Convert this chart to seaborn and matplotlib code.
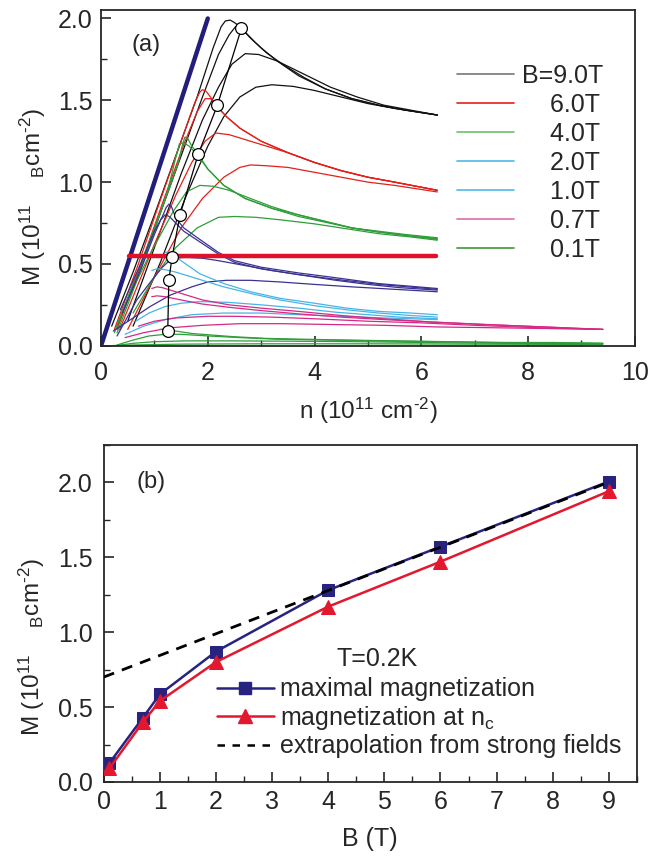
import numpy as np
import pandas as pd
import matplotlib
matplotlib.use("Agg")
import matplotlib.pyplot as plt
from matplotlib.lines import Line2D
from matplotlib.ticker import MultipleLocator
import seaborn as sns

# ---------------- panel (a): M(n) curves, four temperatures per field ----------------
# each curve is a list of (n, M) points
b9_curves = [
    [(0.2, 0.12), (0.6, 0.45), (1.0, 0.8), (1.4, 1.16), (1.8, 1.52), (2.1, 1.82), (2.25, 1.95),
     (2.33, 1.985), (2.42, 1.99), (2.5, 1.975), (2.6, 1.95), (2.8, 1.88), (3.0, 1.82), (3.3, 1.74),
     (3.7, 1.65), (4.2, 1.57), (4.7, 1.51), (5.2, 1.47), (5.7, 1.44), (6.3, 1.41)],
    [(0.3, 0.12), (0.7, 0.45), (1.1, 0.8), (1.5, 1.16), (1.9, 1.52), (2.2, 1.78), (2.4, 1.9),
     (2.52, 1.95), (2.63, 1.94), (2.75, 1.9), (2.9, 1.85), (3.1, 1.79), (3.4, 1.72), (3.8, 1.64),
     (4.2, 1.57), (4.7, 1.51), (5.2, 1.47), (5.7, 1.44), (6.3, 1.41)],
    [(0.5, 0.15), (1.0, 0.6), (1.5, 1.05), (1.9, 1.38), (2.2, 1.58), (2.45, 1.72), (2.7, 1.785),
     (2.95, 1.78), (3.3, 1.74), (3.8, 1.66), (4.3, 1.58), (4.8, 1.52), (5.3, 1.47), (5.8, 1.44), (6.3, 1.41)],
    [(0.6, 0.12), (1.1, 0.5), (1.6, 0.92), (2.0, 1.22), (2.3, 1.4), (2.6, 1.52), (2.9, 1.58),
     (3.2, 1.595), (3.6, 1.585), (4.0, 1.56), (4.5, 1.52), (5.0, 1.48), (5.5, 1.45), (6.3, 1.41)],
]
b6_curves = [
    [(0.25, 0.1), (0.7, 0.5), (1.1, 0.88), (1.5, 1.25), (1.75, 1.48), (1.85, 1.55), (1.9, 1.565),
     (1.97, 1.555), (2.05, 1.52), (2.18, 1.46), (2.35, 1.4), (2.6, 1.33), (3.0, 1.25), (3.5, 1.18),
     (4.0, 1.12), (4.5, 1.07), (5.0, 1.03), (5.5, 1.0), (6.3, 0.95)],
    [(0.3, 0.1), (0.75, 0.5), (1.15, 0.87), (1.55, 1.23), (1.8, 1.43), (1.95, 1.51), (2.05, 1.51),
     (2.18, 1.46), (2.35, 1.4), (2.6, 1.33), (3.0, 1.25), (3.5, 1.18), (4.0, 1.12), (4.5, 1.07),
     (5.0, 1.03), (5.5, 1.0), (6.3, 0.95)],
    [(0.35, 0.1), (0.6, 0.3), (1.0, 0.62), (1.4, 0.92), (1.7, 1.12), (1.95, 1.25), (2.15, 1.3),
     (2.4, 1.29), (2.7, 1.26), (3.0, 1.23), (3.5, 1.18), (4.0, 1.12), (4.5, 1.07), (5.0, 1.03),
     (5.5, 1.0), (6.3, 0.95)],
    [(0.5, 0.1), (1.0, 0.42), (1.5, 0.72), (1.9, 0.9), (2.3, 1.03), (2.6, 1.09), (2.8, 1.105),
     (3.1, 1.1), (3.5, 1.09), (4.0, 1.06), (4.5, 1.03), (5.0, 1.0), (5.5, 0.98), (6.3, 0.94)],
]
b4_curves = [
    [(0.25, 0.08), (0.6, 0.38), (1.0, 0.72), (1.3, 0.98), (1.45, 1.12), (1.52, 1.22), (1.57, 1.275),
     (1.62, 1.27), (1.7, 1.22), (1.82, 1.17), (2.0, 1.08), (2.3, 0.98), (2.7, 0.9), (3.2, 0.84),
     (3.7, 0.8), (4.2, 0.76), (4.7, 0.72), (5.2, 0.7), (5.7, 0.68), (6.3, 0.66)],
    [(0.3, 0.08), (0.65, 0.38), (1.0, 0.7), (1.25, 0.95), (1.4, 1.15), (1.47, 1.235), (1.55, 1.24),
     (1.65, 1.22), (1.82, 1.16), (2.0, 1.08), (2.3, 0.98), (2.7, 0.9), (3.2, 0.84), (3.7, 0.79),
     (4.2, 0.755), (4.7, 0.72), (5.2, 0.695), (5.7, 0.675), (6.3, 0.655)],
    [(0.3, 0.12), (0.45, 0.25), (0.9, 0.55), (1.35, 0.82), (1.6, 0.94), (1.85, 0.98), (2.1, 0.975),
     (2.4, 0.95), (2.8, 0.9), (3.2, 0.85), (3.7, 0.8), (4.2, 0.76), (4.7, 0.72), (5.2, 0.695),
     (5.7, 0.675), (6.3, 0.65)],
    [(0.6, 0.2), (1.0, 0.42), (1.4, 0.6), (1.8, 0.72), (2.2, 0.785), (2.5, 0.79), (2.9, 0.785),
     (3.35, 0.77), (4.0, 0.745), (4.6, 0.715), (5.2, 0.685), (5.8, 0.665), (6.3, 0.645)],
]
b2_curves = [
    [(0.36, 0.22), (0.7, 0.47), (1.0, 0.7), (1.15, 0.79), (1.22, 0.845), (1.27, 0.865), (1.32, 0.85),
     (1.4, 0.78), (1.55, 0.72), (1.85, 0.65), (2.2, 0.57), (2.5, 0.52), (3.0, 0.48), (3.7, 0.445),
     (4.3, 0.42), (5.2, 0.38), (6.3, 0.35)],
    [(0.4, 0.2), (0.75, 0.47), (1.0, 0.68), (1.12, 0.77), (1.2, 0.8), (1.28, 0.79), (1.4, 0.75),
     (1.55, 0.7), (1.85, 0.635), (2.2, 0.56), (2.5, 0.51), (3.0, 0.47), (3.7, 0.435), (4.3, 0.41),
     (5.2, 0.375), (6.3, 0.345)],
    [(0.3, 0.06), (0.67, 0.28), (0.95, 0.4), (1.15, 0.48), (1.33, 0.535), (1.6, 0.54), (1.9, 0.535),
     (2.2, 0.52), (2.7, 0.49), (3.2, 0.46), (3.8, 0.43), (4.4, 0.4), (5.0, 0.375), (5.6, 0.355), (6.3, 0.34)],
    [(0.23, 0.09), (0.6, 0.17), (0.92, 0.24), (1.3, 0.31), (1.7, 0.36), (2.0, 0.39), (2.35, 0.4),
     (2.8, 0.4), (3.35, 0.39), (4.0, 0.375), (4.7, 0.36), (5.5, 0.345), (6.3, 0.33)],
]
b1_curves = [
    [(1.2, 0.57), (1.27, 0.575), (1.35, 0.56), (1.5, 0.52), (1.85, 0.44), (2.3, 0.38), (2.8, 0.33),
     (3.35, 0.29), (4.0, 0.26), (4.6, 0.23), (5.2, 0.21), (5.8, 0.2), (6.3, 0.19)],
    [(0.95, 0.46), (1.05, 0.47), (1.2, 0.465), (1.4, 0.45), (1.8, 0.41), (2.3, 0.36), (2.8, 0.32),
     (3.35, 0.28), (4.0, 0.245), (4.6, 0.22), (5.2, 0.2), (5.8, 0.185), (6.3, 0.175)],
    [(0.65, 0.15), (0.9, 0.2), (1.2, 0.24), (1.5, 0.26), (1.85, 0.27), (2.4, 0.265), (3.0, 0.25),
     (3.7, 0.23), (4.4, 0.205), (5.0, 0.19), (5.6, 0.175), (6.3, 0.165)],
    [(0.45, 0.07), (0.8, 0.12), (1.2, 0.16), (1.7, 0.19), (2.3, 0.2), (3.0, 0.2), (3.7, 0.19),
     (4.5, 0.18), (5.3, 0.17), (6.3, 0.16)],
]
b07_curves = [
    [(0.95, 0.35), (1.05, 0.36), (1.15, 0.355), (1.3, 0.34), (1.6, 0.31), (1.9, 0.28), (2.4, 0.25),
     (3.0, 0.23), (3.7, 0.21), (4.5, 0.185), (5.3, 0.165), (6.2, 0.145), (7.2, 0.13), (8.3, 0.115), (9.4, 0.1)],
    [(0.95, 0.3), (1.05, 0.305), (1.2, 0.3), (1.5, 0.28), (1.9, 0.255), (2.4, 0.235), (3.0, 0.215),
     (3.7, 0.195), (4.5, 0.175), (5.3, 0.16), (6.2, 0.145), (7.2, 0.13), (8.3, 0.115), (9.4, 0.1)],
    [(0.7, 0.12), (1.0, 0.15), (1.4, 0.17), (2.0, 0.18), (2.5, 0.18), (3.2, 0.175), (4.0, 0.165),
     (5.0, 0.15), (6.0, 0.14), (7.0, 0.125), (8.2, 0.11), (9.4, 0.1)],
    [(0.45, 0.05), (0.8, 0.08), (1.3, 0.11), (1.9, 0.125), (2.6, 0.135), (3.4, 0.135), (4.3, 0.13),
     (5.3, 0.125), (6.3, 0.115), (7.4, 0.11), (8.4, 0.105), (9.4, 0.1)],
]
b01_curves = [
    [(1.1, 0.1), (1.25, 0.1), (1.4, 0.09), (1.7, 0.075), (2.1, 0.065), (2.5, 0.055), (3.1, 0.045),
     (3.8, 0.04), (4.6, 0.035), (5.5, 0.03), (6.5, 0.025), (7.5, 0.02), (8.5, 0.02), (9.4, 0.015)],
    [(0.3, 0.005), (0.6, 0.035), (0.9, 0.06), (1.2, 0.07), (1.5, 0.07), (2.0, 0.06), (2.6, 0.05),
     (3.3, 0.04), (4.2, 0.035), (5.2, 0.03), (6.3, 0.025), (7.4, 0.02), (8.5, 0.018), (9.4, 0.015)],
    [(0.25, 0.0), (0.6, 0.015), (1.0, 0.025), (1.6, 0.03), (2.4, 0.03), (3.5, 0.028), (4.8, 0.025),
     (6.0, 0.02), (7.5, 0.015), (9.4, 0.012)],
    [(0.1, 0.0), (0.6, 0.005), (1.5, 0.01), (3.0, 0.012), (5.0, 0.012), (7.0, 0.01), (9.4, 0.008)],
]

curve_colors = ["#111111", "#e3201b", "#2f9e3a", "#3a3192", "#48b4e6", "#d42a86", "#2f9e3a"]
legend_colors = ["#777777", "#e3201b", "#6cc06c", "#4fb8e8", "#4fb8e8", "#d870a8", "#3a9a3a"]
field_labels = ["B=9.0T", "    6.0T", "    4.0T", "    2.0T", "    1.0T", "    0.7T", "    0.1T"]

# full polarisation line M = n and the horizontal reference level
sat_n = [0.0, 2.0]
sat_M = [0.0, 2.0]
ref_n = [0.53, 6.27]
ref_M = [0.55, 0.55]

# ---------------- panel (b) ----------------
B_field = [0.1, 0.7, 1.0, 2.0, 4.0, 6.0, 9.0]
M_max = [0.125, 0.43, 0.585, 0.87, 1.28, 1.57, 2.005]
M_nc = [0.09, 0.40, 0.54, 0.80, 1.17, 1.47, 1.94]
n_c = [1.25, 1.27, 1.33, 1.48, 1.82, 2.18, 2.63]   # density of the open circles in (a)
ext_B = [0.0, 9.0]
ext_M = [0.70, 2.00]

# ---------------- style ----------------
sns.set_style("ticks")
plt.rcParams["font.family"] = ["Liberation Sans", "DejaVu Sans"]
plt.rcParams["mathtext.fontset"] = "custom"
plt.rcParams["mathtext.rm"] = "Liberation Sans"
plt.rcParams["mathtext.it"] = "Liberation Sans:italic"
plt.rcParams["mathtext.default"] = "regular"
plt.rcParams["axes.linewidth"] = 1.3

FS = 18
LFS = 17.5

ylab = r"M (10$^{11}$    $_{B}$cm$^{\text{-2}}$)"

fig = plt.figure(figsize=(6.69, 8.58), dpi=100)
ax1 = fig.add_axes([0.151, 0.597, 0.798, 0.391])
ax2 = fig.add_axes([0.155, 0.0886, 0.797, 0.393])

field_sets = [b9_curves, b6_curves, b4_curves, b2_curves, b1_curves, b07_curves, b01_curves]
for curves, col in zip(field_sets, curve_colors):
    for pts in curves:
        df = pd.DataFrame(pts, columns=["n", "M"])
        sns.lineplot(data=df, x="n", y="M", ax=ax1, color=col, lw=0.9,
                     sort=False, estimator=None)

sns.lineplot(x=sat_n, y=sat_M, ax=ax1, color="#231d7c", lw=3.2, sort=False, estimator=None)
sns.lineplot(x=ref_n, y=ref_M, ax=ax1, color="#e0102a", lw=3.2, sort=False, estimator=None)

circ = pd.DataFrame({"n": n_c, "M": M_nc})
sns.lineplot(data=circ, x="n", y="M", ax=ax1, color="black", lw=0.9, sort=False, estimator=None)
ax1.plot(circ["n"], circ["M"], ls="none", marker="o", ms=8.5, mfc="white", mec="black",
         mew=0.9, zorder=5)

handles = [Line2D([], [], color=c, lw=1.2) for c in legend_colors]
ax1.legend(handles, field_labels, loc="upper right", bbox_to_anchor=(0.94, 0.84),
           frameon=False, fontsize=FS, handlelength=2.3, handletextpad=0.3,
           labelspacing=0.2, borderaxespad=0, borderpad=0)

ax1.text(0.57, 1.835, "(a)", fontsize=17, va="center", ha="left")
ax1.set_xlim(0, 10)
ax1.set_ylim(0, 2.05)
ax1.set_xticks([0, 2, 4, 6, 8, 10], ["0", "2", "4", "6", "8", "10"])
ax1.set_yticks([0, 0.5, 1.0, 1.5, 2.0], ["0.0", "0.5", "1.0", "1.5", "2.0"])
ax1.xaxis.set_minor_locator(MultipleLocator(1))
ax1.yaxis.set_minor_locator(MultipleLocator(0.25))
ax1.set_xlabel(r"n (10$^{11}$ cm$^{\text{-2}}$)", fontsize=LFS, labelpad=8)
ax1.set_ylabel(ylab, fontsize=LFS)
ax1.yaxis.set_label_coords(-0.100, 0.443)

# panel (b)
sns.lineplot(x=ext_B, y=ext_M, ax=ax2, color="black", lw=2, ls=(0, (4, 3)),
             sort=False, estimator=None, zorder=4)
sns.lineplot(x=B_field, y=M_max, ax=ax2, color="#27237f", lw=1.8, marker="s", ms=9,
             mec="#27237f", sort=False, estimator=None, zorder=3)
sns.lineplot(x=B_field, y=M_nc, ax=ax2, color="#e3172d", lw=1.8, marker="^", ms=10.5,
             mec="#e3172d", sort=False, estimator=None, zorder=3)

h2 = [Line2D([], [], color="#27237f", lw=1.8, marker="s", ms=9),
      Line2D([], [], color="#e3172d", lw=1.8, marker="^", ms=10.5),
      Line2D([], [], color="black", lw=1.8, ls=(0, (3, 3)))]
ax2.legend(h2, ["maximal magnetization", "magnetization at n$_c$", "extrapolation from strong fields"],
           loc="lower left", bbox_to_anchor=(0.212, 0.07), frameon=False, fontsize=FS,
           handlelength=2.3, handletextpad=0.25, labelspacing=0.1, borderaxespad=0, borderpad=0)
ax2.text(4.87, 0.82, "T=0.2K", fontsize=FS, ha="center", va="center")
ax2.text(0.58, 2.0, "(b)", fontsize=17, ha="left", va="center")

ax2.set_xlim(0, 9.5)
ax2.set_ylim(0, 2.25)
ax2.set_xticks(range(10), [str(i) for i in range(10)])
ax2.set_yticks([0, 0.5, 1.0, 1.5, 2.0], ["0.0", "0.5", "1.0", "1.5", "2.0"])
ax2.xaxis.set_minor_locator(MultipleLocator(0.5))
ax2.yaxis.set_minor_locator(MultipleLocator(0.25))
ax2.set_xlabel("B (T)", fontsize=FS, labelpad=9)
ax2.set_ylabel(ylab, fontsize=LFS)
ax2.yaxis.set_label_coords(-0.107, 0.40)

for ax in (ax1, ax2):
    ax.tick_params(which="major", direction="in", length=7, width=1.2, labelsize=FS, pad=6)
    ax.tick_params(which="minor", direction="in", length=4, width=1.0)
    for s in ax.spines.values():
        s.set_visible(True)
        s.set_linewidth(1.3)
ax1.tick_params(axis="x", which="major", pad=11)
ax2.tick_params(axis="y", which="major", pad=8)

fig.savefig("out.png", dpi=100)
